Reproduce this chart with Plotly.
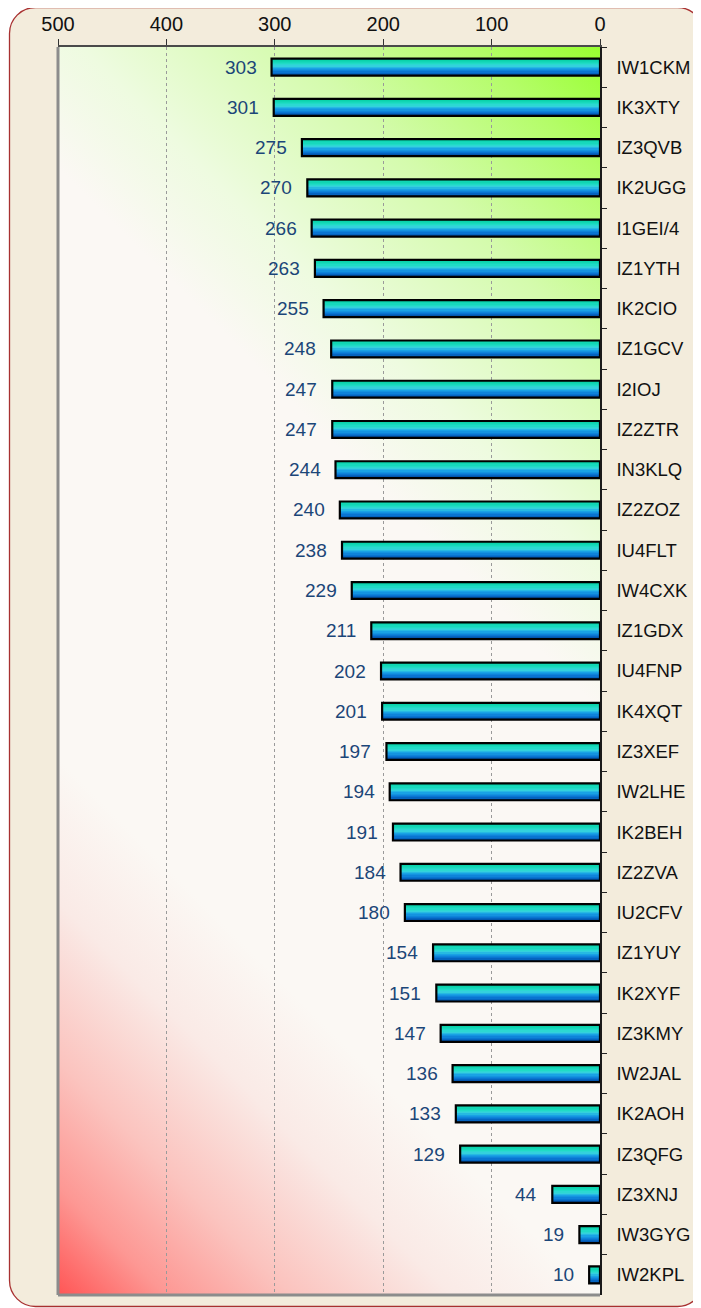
import base64
import plotly.graph_objects as go

calls = ["IW1CKM", "IK3XTY", "IZ3QVB", "IK2UGG", "I1GEI/4", "IZ1YTH", "IK2CIO", "IZ1GCV",
         "I2IOJ", "IZ2ZTR", "IN3KLQ", "IZ2ZOZ", "IU4FLT", "IW4CXK", "IZ1GDX", "IU4FNP",
         "IK4XQT", "IZ3XEF", "IW2LHE", "IK2BEH", "IZ2ZVA", "IU2CFV", "IZ1YUY", "IK2XYF",
         "IZ3KMY", "IW2JAL", "IK2AOH", "IZ3QFG", "IZ3XNJ", "IW3GYG", "IW2KPL"]
scores = [303, 301, 275, 270, 266, 263, 255, 248, 247, 247, 244, 240, 238, 229, 211, 202,
          201, 197, 194, 191, 184, 180, 154, 151, 147, 136, 133, 129, 44, 19, 10]
x_ticks = [0, 100, 200, 300, 400, 500]

W, H = 701, 1308
L, T, R, B = 50, 39, 592, 1287
pw, ph = R - L, B - T

# background: beige rounded card + diagonal red/white/green gradient in plot area
s = (pw + ph) / 2
stops = [(0.0, "#ff5555"), (0.06, "#fd9793"), (0.13, "#fbc3be"), (0.22, "#faeae6"),
         (0.30, "#fbf8f4"), (0.63, "#fbf8f4"), (0.71, "#eefbe0"), (0.83, "#d4fbac"),
         (0.93, "#b4fd68"), (1.0, "#98ff30")]
stop_xml = "".join(f'<stop offset="{o}" stop-color="{c}"/>' for o, c in stops)
svg = (f'<svg xmlns="http://www.w3.org/2000/svg" width="{W}" height="{H}" viewBox="0 0 {W} {H}" '
       f'preserveAspectRatio="none"><defs><linearGradient id="g" gradientUnits="userSpaceOnUse" '
       f'x1="{L}" y1="{B}" x2="{L + s}" y2="{B - s}">{stop_xml}</linearGradient></defs>'
       f'<rect x="1.5" y="-0.5" width="694" height="1299" rx="26" ry="26" fill="#f3ecdc" '
       f'stroke="#a83030" stroke-width="1.3"/>'
       f'<rect x="{L}" y="{T}" width="{pw}" height="{ph}" fill="url(#g)"/></svg>')
src = "data:image/svg+xml;base64," + base64.b64encode(svg.encode()).decode()


def lerp_color(stops_, t):
    for (t0, c0), (t1, c1) in zip(stops_[:-1], stops_[1:]):
        if t0 <= t <= t1:
            f = (t - t0) / (t1 - t0) if t1 > t0 else 0
            a = [int(c0[i:i + 2], 16) for i in (1, 3, 5)]
            b = [int(c1[i:i + 2], 16) for i in (1, 3, 5)]
            return "rgb(%d,%d,%d)" % tuple(round(a[k] + (b[k] - a[k]) * f) for k in range(3))
    return stops_[-1][1]


bar_stops = [(0.0, "#00cc9e"), (0.3, "#1cdcc2"), (0.45, "#36d6dc"), (0.6, "#1aa4e6"),
             (0.8, "#0a78d6"), (1.0, "#004ea6")]

fig = go.Figure()
bw = 0.42
n = 14
for i in range(n):
    c = lerp_color(bar_stops, (i + 0.5) / n)
    fig.add_bar(x=scores, y=calls, orientation="h", width=bw / n * 1.15,
                offset=-bw / 2 + i * bw / n, marker=dict(color=c, line=dict(width=0)),
                hoverinfo="skip", showlegend=False)
fig.add_bar(x=scores, y=calls, orientation="h", width=bw, offset=-bw / 2,
            marker=dict(color="rgba(0,0,0,0)", line=dict(color="#000000", width=2.2)),
            showlegend=False)

for c, v in zip(calls, scores):
    fig.add_annotation(x=v, y=c, xref="x", yref="y", text=str(v), showarrow=False,
                       xanchor="right", xshift=-13,
                       font=dict(family="Liberation Sans, Arial", size=19, color="#1b4678"))

fig.update_layout(
    width=W, height=H,
    margin=dict(l=L, r=W - R, t=T, b=H - B, pad=0, autoexpand=False),
    paper_bgcolor="white", plot_bgcolor="rgba(0,0,0,0)",
    barmode="overlay",
    font=dict(family="Liberation Sans, Arial", color="#111111"),
    images=[dict(source=src, xref="paper", yref="paper", x=-L / pw, y=1 + T / ph,
                 sizex=W / pw, sizey=H / ph, xanchor="left", yanchor="top",
                 sizing="stretch", layer="below")],
    shapes=[
        dict(type="line", xref="paper", yref="paper", x0=0, x1=0, y0=0, y1=1,
             line=dict(color="#8c8c8c", width=3)),
        dict(type="line", xref="paper", yref="paper", x0=0, x1=1, y0=0, y1=0,
             line=dict(color="#8c8c8c", width=3)),
    ],
)
fig.update_xaxes(range=[500, 0], side="top", tickvals=x_ticks, ticks="outside", ticklen=6,
                 tickcolor="#333", tickwidth=1, showline=True, linecolor="#4a4a4a", linewidth=2,
                 showgrid=True, gridcolor="#9a9a9a", griddash="dot", gridwidth=1,
                 zeroline=False, tickfont=dict(size=20, color="#111"), fixedrange=True,
                 automargin=False)
fig.update_yaxes(autorange="reversed", side="right", ticks="outside", tickson="boundaries",
                 ticklen=5, tickcolor="#222", showline=True, linecolor="#1a1a1a", linewidth=1.5,
                 showgrid=False, tickfont=dict(size=18.5, color="#111"), ticklabelstandoff=11,
                 fixedrange=True, automargin=False)

fig.write_html("out.html")
